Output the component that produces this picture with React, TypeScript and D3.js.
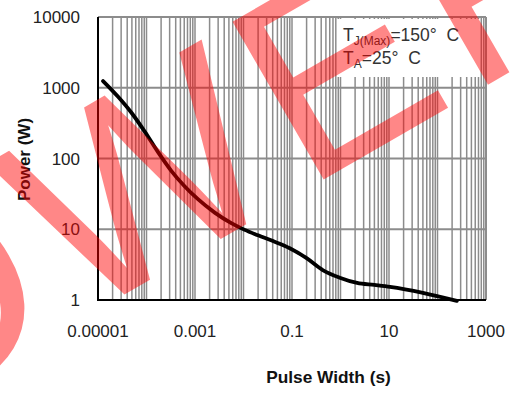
import React from "react";
import * as d3 from "d3";

// pulse width (s) vs. peak power (W)
const pulseWidth = [1.27e-5, 2.6e-5, 4.9e-5, 9.2e-5, 1.73e-4, 3.24e-4, 6.1e-4, 1.15e-3, 2.55e-3, 5.6e-3, 0.0106, 0.02, 0.0406, 0.09, 0.2, 0.43, 1, 2.2, 5, 10.5, 50, 250];
const peakPower = [1245, 745, 443, 240, 123, 67, 40.6, 26.6, 17.2, 12.2, 9.8, 8.2, 6.8, 5.4, 3.9, 2.65, 2.05, 1.74, 1.63, 1.53, 1.26, 0.97];

const xTicks = [1e-5, 1e-3, 1e-1, 10, 1000];
const xTickLabels = ["0.00001", "0.001", "0.1", "10", "1000"];
const yTicks = [1, 10, 100, 1000, 10000];
const yTickLabels = ["1", "10", "100", "1000", "10000"];

const font = "'Liberation Sans', Arial, sans-serif";
const gridColor = "#8c8c8c";

export default function App() {
  const width = 512;
  const height = 394;
  const left = 98, right = 486, top = 17, bottom = 300;

  const x = d3.scaleLog().domain([1e-5, 1e3]).range([left, right]);
  const y = d3.scaleLog().domain([1, 1e4]).range([bottom, top]);

  const minor = x.ticks();

  const pts = pulseWidth.map((d, i) => [x(d), y(peakPower[i])] as [number, number]);
  const line = d3.line().curve(d3.curveMonotoneX)(pts) || "";

  // watermark placement: rotated word, "W" lands across the plot's left half
  const ang = -30;
  const rad = (ang * Math.PI) / 180;
  const fs = 265;
  const ls = 13;
  const wStart = [77, 322];
  const before = fs * (0.667 + 0.778) + 2 * ls;
  const wx = wStart[0] - before * Math.cos(rad);
  const wy = wStart[1] - before * Math.sin(rad);

  return (
    <div style={{ position: "absolute", left: 0, top: 0 }}>
      <svg width={width} height={height} style={{ display: "block", background: "#fff" }}>
        {/* vertical gridlines */}
        {minor.map((t, i) => (
          <line key={"v" + i} x1={x(t)} x2={x(t)} y1={top} y2={bottom} stroke={gridColor} strokeWidth={1.5} />
        ))}
        {/* horizontal gridlines */}
        {yTicks.map((t, i) => (
          <line key={"h" + i} x1={left} x2={right} y1={y(t)} y2={y(t)} stroke={gridColor} strokeWidth={1.8} />
        ))}
        <line x1={right} x2={right} y1={top} y2={bottom} stroke={gridColor} strokeWidth={2} />

        {/* legend box */}
        <rect x={337} y={19} width={143} height={58} fill="#fff" />
        <text x={343} y={41} fontFamily={font} fontSize={17.5} fill="#333">
          T<tspan fontSize={12} dy={4}>J(Max)</tspan>
          <tspan dy={-4}>=150°{"\u00a0\u00a0"}C</tspan>
        </text>
        <text x={343} y={63.5} fontFamily={font} fontSize={17.5} fill="#333">
          T<tspan fontSize={12} dy={4}>A</tspan>
          <tspan dy={-4}>=25°{"\u00a0\u00a0"}C</tspan>
        </text>

        {/* axes */}
        <line x1={left} x2={left} y1={top} y2={bottom + 1} stroke="#000" strokeWidth={2} />
        <line x1={left - 1} x2={right} y1={bottom} y2={bottom} stroke="#000" strokeWidth={2} />

        {/* curve */}
        <path d={line} fill="none" stroke="#000" strokeWidth={3.8} strokeLinecap="round" strokeLinejoin="round" />

        {/* tick labels */}
        {yTicks.map((t, i) => (
          <text key={"yl" + i} x={80} y={y(t)} dy="0.36em" textAnchor="end" fontFamily={font} fontSize={17} fill="#222">
            {yTickLabels[i]}
          </text>
        ))}
        {xTicks.map((t, i) => (
          <text key={"xl" + i} x={x(t)} y={337} textAnchor="middle" fontFamily={font} fontSize={17} fill="#222">
            {xTickLabels[i]}
          </text>
        ))}

        {/* axis titles */}
        <text transform="translate(30,159.5) rotate(-90)" textAnchor="middle" fontFamily={font} fontSize={17} fontWeight="bold" fill="#111">
          Power (W)
        </text>
        <text x={328.5} y={383} textAnchor="middle" fontFamily={font} fontSize={17.3} fontWeight="bold" fill="#111">
          Pulse Width (s)
        </text>

        {/* watermark */}
        <text
          transform={`translate(${wx},${wy}) rotate(${ang})`}
          fontFamily={font}
          fontSize={fs}
          letterSpacing={ls}
          fill="#ff0000"
          fillOpacity={0.47}
        >
          POWER
        </text>
      </svg>
    </div>
  );
}
